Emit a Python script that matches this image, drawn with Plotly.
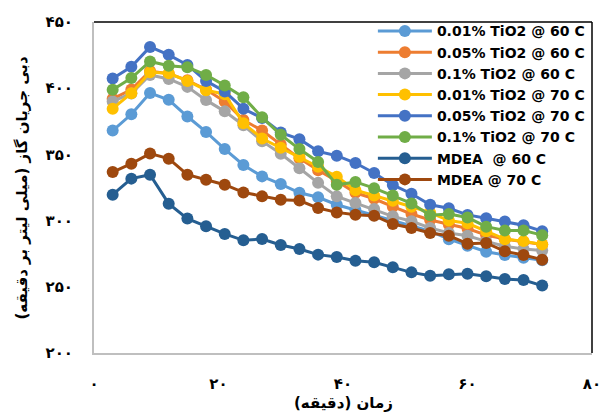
import plotly.graph_objects as go

time_min = [3, 6, 9, 12, 15, 18, 21, 24, 27, 30, 33, 36, 39, 42, 45, 48, 51, 54, 57, 60, 63, 66, 69, 72]

tio2_001_60 = [368.0, 380.3, 396.3, 391.2, 378.6, 367.0, 354.0, 342.0, 333.4, 327.6, 321.0, 317.6, 312.0, 308.0, 304.0, 300.0, 296.0, 292.0, 286.0, 281.0, 276.5, 274.0, 272.0, 270.0]
tio2_005_60 = [392.0, 399.0, 413.0, 411.0, 406.0, 399.0, 390.0, 376.0, 368.0, 357.5, 347.0, 338.0, 330.0, 321.0, 316.5, 310.5, 305.0, 300.5, 297.0, 294.0, 289.0, 286.0, 284.0, 282.0]
tio2_01_60 = [390.0, 396.0, 410.0, 407.0, 401.0, 391.0, 382.5, 372.0, 360.0, 350.5, 339.5, 328.5, 318.3, 313.3, 308.8, 303.2, 299.5, 294.5, 290.6, 288.5, 284.3, 280.6, 278.5, 277.5]
tio2_001_70 = [384.5, 396.2, 412.0, 411.3, 405.5, 398.5, 395.5, 373.5, 362.0, 355.0, 348.3, 340.7, 333.2, 323.0, 319.0, 315.0, 310.5, 306.0, 300.0, 298.0, 292.0, 286.0, 284.5, 282.0]
tio2_005_70 = [407.3, 416.2, 431.2, 425.2, 417.6, 405.5, 397.5, 384.5, 377.5, 366.5, 361.5, 352.3, 349.0, 343.5, 336.0, 326.9, 320.3, 312.0, 309.3, 304.3, 301.7, 299.3, 296.5, 292.0]
tio2_01_70 = [398.8, 407.7, 420.2, 417.0, 415.8, 410.0, 402.0, 393.2, 378.0, 364.8, 354.0, 344.3, 327.0, 329.2, 324.5, 319.0, 313.0, 304.0, 305.0, 302.3, 295.4, 292.5, 292.5, 289.0]
mdea_60 = [319.6, 331.7, 334.7, 312.8, 301.5, 295.7, 289.9, 285.1, 286.1, 281.6, 278.5, 274.3, 272.5, 269.7, 268.5, 264.7, 260.9, 258.4, 259.4, 259.9, 257.9, 255.9, 255.1, 250.9]
mdea_70 = [336.7, 343.0, 350.6, 346.8, 334.7, 330.9, 327.1, 321.3, 318.3, 315.8, 315.1, 309.5, 306.2, 304.5, 303.7, 297.4, 294.4, 290.6, 288.6, 282.6, 283.1, 276.8, 274.0, 270.5]

series_names = ["0.01% TiO2 @ 60 C", "0.05% TiO2 @ 60 C", "0.1% TiO2 @ 60 C",
                "0.01% TiO2 @ 70 C", "0.05% TiO2 @ 70 C", "0.1% TiO2 @ 70 C",
                "MDEA  @ 60 C", "MDEA @ 70 C"]
series_values = [tio2_001_60, tio2_005_60, tio2_01_60, tio2_001_70, tio2_005_70, tio2_01_70, mdea_60, mdea_70]
series_colors = ["#5B9BD5", "#ED7D31", "#A5A5A5", "#FFC000", "#4472C4", "#70AD47", "#255E91", "#9E480E"]

x_tickvals = [0, 20, 40, 60, 80]
x_ticktext = ["۰", "۲۰", "۴۰", "۶۰", "۸۰"]
y_tickvals = [200, 250, 300, 350, 400, 450]
y_ticktext = ["۲۰۰", "۲۵۰", "۳۰۰", "۳۵۰", "۴۰۰", "۴۵۰"]

x_title = "زمان (دقیقه)"
y_title = "دبی جریان گاز (میلی لیتر بر دقیقه)"

fig = go.Figure()
for name, vals, col in zip(series_names, series_values, series_colors):
    fig.add_trace(go.Scatter(
        x=time_min, y=vals, name=name, mode="lines+markers",
        line=dict(color=col, width=3),
        marker=dict(color=col, size=12, symbol="circle"),
    ))

persian_font = "DejaVu Sans"
title_font = dict(family=persian_font, size=15, color="black", weight="bold")

fig.update_layout(
    width=599, height=413,
    margin=dict(l=94, r=7, t=22, b=60, autoexpand=False),
    paper_bgcolor="white", plot_bgcolor="white",
    showlegend=True,
    legend=dict(
        x=0.56, y=1.02, xanchor="left", yanchor="top",
        bgcolor="rgba(0,0,0,0)", borderwidth=0,
        font=dict(family="DejaVu Sans", size=14, color="black", weight="bold"),
        itemwidth=54, tracegroupgap=0,
    ),
    xaxis=dict(
        range=[0, 80], tickvals=x_tickvals, ticktext=x_ticktext,
        showgrid=False, zeroline=False, automargin=False,
        showline=True, linecolor="#BFBFBF", linewidth=2,
        ticks="", ticklabelstandoff=16, ticklabeloverflow="allow",
        tickfont=dict(family=persian_font, size=15, color="black", weight="bold"),
    ),
    yaxis=dict(
        range=[200, 450], tickvals=y_tickvals, ticktext=y_ticktext,
        showgrid=False, zeroline=False, automargin=False,
        showline=True, linecolor="#BFBFBF", linewidth=2,
        ticks="", ticklabelstandoff=16, ticklabeloverflow="allow",
        tickfont=dict(family=persian_font, size=15, color="black", weight="bold"),
    ),
    shapes=[
        dict(type="line", xref="paper", yref="paper", x0=0, x1=1, y0=1, y1=1,
             line=dict(color="black", width=1.5)),
        dict(type="line", xref="paper", yref="paper", x0=1, x1=1, y0=0, y1=1,
             line=dict(color="black", width=1.5)),
    ],
    annotations=[
        dict(text=x_title, xref="paper", yref="paper", x=0.5, y=-0.15,
             xanchor="center", yanchor="middle", showarrow=False, font=title_font),
        dict(text=y_title, xref="paper", yref="paper", x=-0.1446, y=0.5,
             xanchor="center", yanchor="middle", showarrow=False, textangle=-90,
             font=title_font),
    ],
)

fig.write_html("out.html", config={"displayModeBar": False},
               post_script="document.body.style.margin='0px';")
